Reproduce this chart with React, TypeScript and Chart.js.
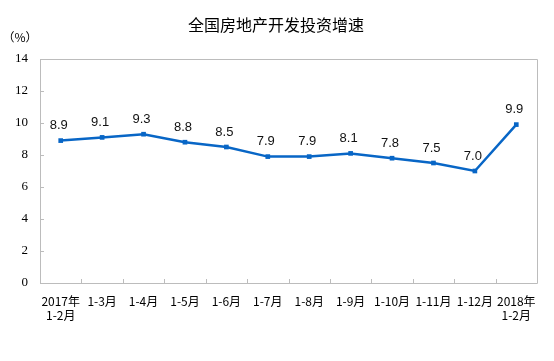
import React, { useEffect, useRef } from "react";
import { Chart, registerables } from "chart.js";

Chart.register(...registerables);

const categories: (string | string[])[] = [
  ["2017年", "1-2月"],
  "1-3月",
  "1-4月",
  "1-5月",
  "1-6月",
  "1-7月",
  "1-8月",
  "1-9月",
  "1-10月",
  "1-11月",
  "1-12月",
  ["2018年", "1-2月"],
];
const growth = [8.9, 9.1, 9.3, 8.8, 8.5, 7.9, 7.9, 8.1, 7.8, 7.5, 7.0, 9.9];
const titleText = "全国房地产开发投资增速";
const unitText = "（%）";

const AXIS = "#bcbcbc";
const LINE = "#0866c6";

const decorPlugin = {
  id: "decor",
  afterDraw(chart: any) {
    const { ctx, chartArea } = chart;
    const { left, right, top, bottom } = chartArea;
    const xs = chart.scales.x;
    const ys = chart.scales.y;
    ctx.save();
    ctx.strokeStyle = AXIS;
    ctx.lineWidth = 1;
    ctx.beginPath();
    ctx.moveTo(Math.round(left) + 0.5, Math.round(top) + 0.5);
    ctx.lineTo(Math.round(right) + 0.5, Math.round(top) + 0.5);
    ctx.lineTo(Math.round(right) + 0.5, Math.round(bottom) + 0.5);
    ctx.lineTo(Math.round(left) + 0.5, Math.round(bottom) + 0.5);
    ctx.closePath();
    ctx.stroke();
    ctx.beginPath();
    for (let v = 0; v <= 14; v += 2) {
      const y = Math.round(ys.getPixelForValue(v)) + 0.5;
      ctx.moveTo(left, y);
      ctx.lineTo(left + 4, y);
    }
    const n = categories.length;
    const step = xs.getPixelForValue(1) - xs.getPixelForValue(0);
    for (let i = 1; i < n; i++) {
      const x = Math.round(xs.getPixelForValue(i) - step / 2) + 0.5;
      ctx.moveTo(x, bottom);
      ctx.lineTo(x, bottom - 4);
    }
    ctx.stroke();

    ctx.fillStyle = "#000";
    ctx.textAlign = "center";
    ctx.textBaseline = "middle";
    ctx.font = "16px 'Noto Sans CJK SC'";
    ctx.fillText(titleText, 276, 25);
    ctx.font = "12px 'Noto Sans CJK SC'";
    ctx.fillText(unitText, 20, 37);

    const meta = chart.getDatasetMeta(0);
    ctx.font = "13px 'Liberation Sans', Arial, sans-serif";
    ctx.fillStyle = "#111";
    meta.data.forEach((pt: any, i: number) => {
      ctx.fillText(growth[i].toFixed(1), pt.x - 2, pt.y - 15);
    });
    ctx.restore();
  },
};

export default function App() {
  const ref = useRef<HTMLCanvasElement | null>(null);
  useEffect(() => {
    if (!ref.current) return;
    const chart = new Chart(ref.current, {
      type: "line",
      data: {
        labels: categories as any,
        datasets: [
          {
            data: growth,
            borderColor: LINE,
            backgroundColor: LINE,
            borderWidth: 2.5,
            pointStyle: "rect",
            pointRadius: 3.3,
            pointBorderWidth: 0,
            tension: 0,
          },
        ],
      },
      options: {
        responsive: false,
        animation: false,
        maintainAspectRatio: false,
        layout: { padding: { left: 0, right: 17, top: 59, bottom: 0 } },
        plugins: { legend: { display: false }, title: { display: false }, tooltip: { enabled: false } },
        scales: {
          x: {
            offset: true,
            grid: { display: false, drawTicks: false, offset: true },
            border: { display: false },
            ticks: {
              color: "#000",
              padding: 11,
              maxRotation: 0,
              autoSkip: false,
              font: { family: "'Noto Sans CJK SC'", size: 12, lineHeight: 1.2 },
            },
            afterFit: (s: any) => {
              s.height = 78;
            },
          },
          y: {
            min: 0,
            max: 14,
            grid: { display: false, drawTicks: false },
            border: { display: false },
            ticks: {
              stepSize: 2,
              color: "#000",
              padding: 12,
              font: { family: "'Liberation Serif', serif", size: 13 },
            },
            afterFit: (s: any) => {
              s.width = 40;
            },
          },
        },
      },
      plugins: [decorPlugin],
    });
    return () => chart.destroy();
  }, []);
  return (
    <div style={{ position: "absolute", left: 0, top: 0, width: 554, height: 361, background: "#fff" }}>
      <canvas ref={ref} width={554} height={361} />
    </div>
  );
}
